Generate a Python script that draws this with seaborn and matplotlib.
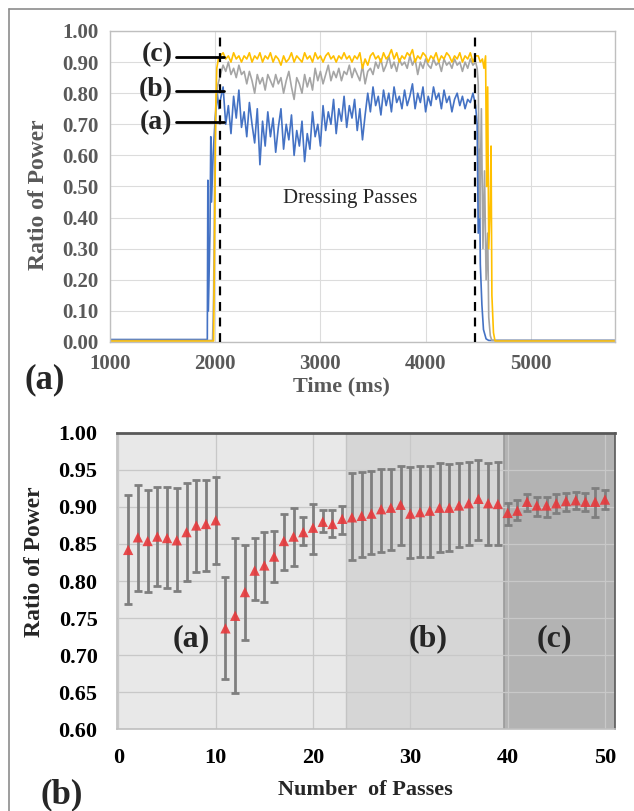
import numpy as np
import pandas as pd
import matplotlib
matplotlib.use("Agg")
import matplotlib.pyplot as plt
import seaborn as sns
from matplotlib.lines import Line2D

sns.set_theme(style="white")
plt.rcParams['font.family'] = ['Liberation Serif', 'DejaVu Serif']

# ---- panel (a): power ratio over time, three passes ----
plateau_t = list(range(2050, 4476, 25))

blue_rise_t = [1000, 1925, 1930, 1935, 1950, 1958, 1965, 1980, 2000, 2020, 2035]
blue_rise = [0.008, 0.008, 0.52, 0.10, 0.35, 0.66, 0.45, 0.60, 0.72, 0.80, 0.75]
blue_plateau = [
    0.78, 0.82, 0.70, 0.76, 0.67, 0.79, 0.72, 0.81, 0.69, 0.74,
    0.66, 0.77, 0.70, 0.64, 0.75, 0.57, 0.71, 0.63, 0.74, 0.66,
    0.72, 0.61, 0.69, 0.75, 0.62, 0.70, 0.65, 0.73, 0.60, 0.68,
    0.63, 0.71, 0.58, 0.67, 0.62, 0.74, 0.66, 0.70, 0.63, 0.76,
    0.68, 0.74, 0.70, 0.78, 0.67, 0.75, 0.71, 0.79, 0.69, 0.76,
    0.72, 0.78, 0.68, 0.75, 0.65, 0.73, 0.80, 0.74, 0.82, 0.76,
    0.79, 0.73, 0.81, 0.76, 0.80, 0.74, 0.82, 0.77, 0.79, 0.75,
    0.81, 0.76, 0.79, 0.83, 0.75, 0.80, 0.77, 0.82, 0.74, 0.79,
    0.76, 0.82, 0.78, 0.80, 0.75, 0.81, 0.77, 0.79, 0.74, 0.78,
    0.80, 0.76, 0.79, 0.75, 0.78, 0.77, 0.80, 0.76]
blue_drop_t = [4490, 4500, 4510, 4520, 4535, 4550, 4575, 4600, 5800]
blue_drop = [0.70, 0.35, 0.62, 0.25, 0.12, 0.04, 0.01, 0.005, 0.005]

gray_rise_t = [1000, 1975, 1985, 1995, 2005, 2020, 2035]
gray_rise = [0.005, 0.005, 0.15, 0.55, 0.75, 0.82, 0.84]
gray_plateau = [
    0.86, 0.89, 0.87, 0.90, 0.86, 0.88, 0.85, 0.89, 0.86, 0.87,
    0.83, 0.87, 0.84, 0.80, 0.86, 0.83, 0.85, 0.81, 0.86, 0.84,
    0.82, 0.86, 0.83, 0.85, 0.80, 0.84, 0.87, 0.82, 0.78, 0.85,
    0.83, 0.80, 0.86, 0.82, 0.85, 0.81, 0.88, 0.84, 0.87, 0.83,
    0.86, 0.89, 0.84, 0.87, 0.85, 0.88, 0.84, 0.87, 0.86, 0.89,
    0.85, 0.88, 0.86, 0.84, 0.89, 0.83, 0.87, 0.88, 0.86, 0.90,
    0.88, 0.91, 0.87, 0.89, 0.92, 0.88, 0.90, 0.87, 0.91, 0.89,
    0.90, 0.88, 0.92, 0.89, 0.91, 0.86, 0.90, 0.88, 0.91, 0.89,
    0.88, 0.91, 0.89, 0.90, 0.87, 0.91, 0.89, 0.90, 0.88, 0.91,
    0.89, 0.90, 0.87, 0.90, 0.88, 0.91, 0.89, 0.90]
gray_drop_t = [4490, 4500, 4515, 4530, 4545, 4560, 4575, 4590, 4600, 4615, 4630, 5800]
gray_drop = [0.88, 0.83, 0.40, 0.75, 0.30, 0.55, 0.20, 0.35, 0.08, 0.02, 0.005, 0.005]

gold_rise_t = [1000, 1985, 1995, 2005, 2015, 2030]
gold_rise = [0.003, 0.003, 0.35, 0.75, 0.88, 0.91]
gold_plateau = [
    0.92, 0.93, 0.91, 0.92, 0.90, 0.93, 0.91, 0.92, 0.90, 0.92,
    0.91, 0.93, 0.90, 0.92, 0.91, 0.93, 0.90, 0.92, 0.91, 0.93,
    0.90, 0.92, 0.91, 0.89, 0.92, 0.90, 0.91, 0.93, 0.90, 0.92,
    0.91, 0.90, 0.93, 0.91, 0.92, 0.90, 0.93, 0.91, 0.92, 0.90,
    0.92, 0.93, 0.91, 0.92, 0.90, 0.92, 0.91, 0.93, 0.91, 0.92,
    0.90, 0.92, 0.91, 0.93, 0.88, 0.91, 0.89, 0.92, 0.93, 0.91,
    0.92, 0.90, 0.93, 0.91, 0.92, 0.94, 0.91, 0.93, 0.90, 0.92,
    0.91, 0.93, 0.92, 0.94, 0.90, 0.92, 0.91, 0.93, 0.92, 0.90,
    0.92, 0.91, 0.93, 0.90, 0.92, 0.91, 0.93, 0.92, 0.90, 0.92,
    0.91, 0.93, 0.90, 0.92, 0.91, 0.93, 0.90, 0.92]
gold_drop_t = [4500, 4520, 4540, 4555, 4570, 4580, 4590, 4600, 4615, 4622, 4630, 4645, 4660, 5800]
gold_drop = [0.92, 0.90, 0.91, 0.88, 0.92, 0.50, 0.82, 0.30, 0.45, 0.63, 0.15, 0.03, 0.003, 0.003]

# ---- panel (b): mean ratio of power per pass ----
passes = list(range(1, 51))
ratio_mean = [0.842, 0.859, 0.854, 0.860, 0.858, 0.855, 0.866, 0.875, 0.877, 0.882,
              0.736, 0.753, 0.785, 0.814, 0.821, 0.833, 0.854, 0.860, 0.866, 0.872,
              0.880, 0.877, 0.884, 0.886, 0.888, 0.891, 0.897, 0.899, 0.903, 0.891,
              0.893, 0.895, 0.899, 0.899, 0.902, 0.905, 0.911, 0.905, 0.904, 0.892,
              0.895, 0.907, 0.902, 0.902, 0.905, 0.908, 0.909, 0.907, 0.907, 0.910]
ratio_hi = [0.916, 0.930, 0.923, 0.927, 0.927, 0.926, 0.932, 0.937, 0.937, 0.941,
            0.806, 0.858, 0.849, 0.858, 0.866, 0.867, 0.891, 0.899, 0.887, 0.904,
            0.896, 0.896, 0.902, 0.946, 0.947, 0.948, 0.952, 0.952, 0.956, 0.954,
            0.956, 0.956, 0.959, 0.958, 0.959, 0.961, 0.963, 0.959, 0.961, 0.905,
            0.910, 0.918, 0.914, 0.914, 0.917, 0.919, 0.920, 0.919, 0.926, 0.923]
ratio_lo = [0.769, 0.787, 0.785, 0.793, 0.791, 0.786, 0.800, 0.812, 0.814, 0.823,
            0.667, 0.649, 0.720, 0.775, 0.772, 0.799, 0.815, 0.820, 0.849, 0.837,
            0.866, 0.859, 0.863, 0.828, 0.832, 0.836, 0.839, 0.842, 0.849, 0.831,
            0.833, 0.833, 0.839, 0.841, 0.846, 0.849, 0.856, 0.849, 0.848, 0.876,
            0.882, 0.894, 0.888, 0.887, 0.892, 0.894, 0.897, 0.894, 0.887, 0.897]
zones = [(-0.15, 23.4, '#e8e8e8'), (23.4, 39.6, '#d6d6d6'), (39.6, 51, '#b3b3b3')]

fig = plt.figure(figsize=(6.34, 8.11), dpi=100)

tick_font = dict(family='Liberation Serif', weight='bold')

# top panel
ax1 = fig.add_axes([0.1735, 0.5783, 0.7965, 0.3835])
series = [
    (blue_rise_t + plateau_t + blue_drop_t, blue_rise + blue_plateau + blue_drop, '#4472c4'),
    (gray_rise_t + plateau_t + gray_drop_t, gray_rise + gray_plateau + gray_drop, '#a5a5a5'),
    (gold_rise_t + plateau_t + gold_drop_t, gold_rise + gold_plateau + gold_drop, '#ffc000'),
]
for t, v, c in series:
    df = pd.DataFrame({'t': t, 'v': v})
    sns.lineplot(data=df, x='t', y='v', ax=ax1, color=c, linewidth=1.2,
                 estimator=None, sort=False)

for xv in (2050, 4470):
    ax1.axvline(xv, color='black', linestyle=(0, (4, 3)), linewidth=1.6, zorder=5)

ax1.set_xlim(1000, 5800)
ax1.set_ylim(0, 1.0)
ax1.set_xticks([1000, 2000, 3000, 4000, 5000])
ax1.set_yticks(np.arange(0, 1.01, 0.1))
ax1.set_yticklabels([f'{y:.2f}' for y in np.arange(0, 1.01, 0.1)])
ax1.grid(True, color='#dcdcdc', linewidth=0.8)
ax1.set_axisbelow(True)
for s in ax1.spines.values():
    s.set_color('#bfbfbf')
    s.set_linewidth(1.0)
ax1.tick_params(length=0, labelsize=15, labelcolor='#595959')
ax1.tick_params(axis='y', pad=8)
ax1.tick_params(axis='x', pad=9)
for lab in ax1.get_xticklabels() + ax1.get_yticklabels():
    lab.set_fontweight('bold')
ax1.set_xlabel('')
ax1.set_ylabel('')

ax1.text(3285, 0.46, 'Dressing Passes', fontsize=15, ha='center', va='center')
for lab, ty, ly in [('(c)', 0.925, 0.916), ('(b)', 0.81, 0.807), ('(a)', 0.705, 0.707)]:
    ax1.text(1595, ty, lab, fontsize=20, fontweight='bold', ha='right', va='center')
    ax1.plot([1630, 2085], [ly, ly], color='black', linewidth=2, zorder=6)

# bottom panel
ax2 = fig.add_axes([0.1845, 0.1011, 0.785, 0.365])
for x0, x1, c in zones:
    ax2.axvspan(x0, x1, color=c, zorder=0, linewidth=0)
ax2.axvline(23.4, color='#c4c4c4', linewidth=1.0, zorder=0.5)
ax2.axvline(39.6, color='#9a9a9a', linewidth=1.2, zorder=0.5)

lo_err = [m - l for m, l in zip(ratio_mean, ratio_lo)]
hi_err = [h - m for m, h in zip(ratio_mean, ratio_hi)]
ax2.errorbar(passes, ratio_mean, yerr=[lo_err, hi_err], fmt='none',
             ecolor='#7f7f7f', elinewidth=2.0, capsize=3.2, capthick=2.0, zorder=3)
sns.scatterplot(x=passes, y=ratio_mean, ax=ax2, marker='^', s=55,
                color='#e8393c', edgecolor='none', alpha=0.9, zorder=4)

ax2.set_xlim(-0.15, 51)
ax2.set_ylim(0.6, 1.0)
ax2.set_xticks([0, 10, 20, 30, 40, 50])
yt = np.arange(0.60, 1.001, 0.05)
ax2.set_yticks(yt)
ax2.set_yticklabels([f'{y:.2f}' for y in yt])
ax2.grid(True, color='#c8c8c8', linewidth=0.9, zorder=1)
ax2.set_axisbelow(True)
for s in ax2.spines.values():
    s.set_color('#bfbfbf')
    s.set_linewidth(1.2)
ax2.spines['top'].set_color('#595959')
ax2.spines['top'].set_linewidth(2)
ax2.spines['right'].set_color('#595959')
ax2.tick_params(length=0, labelsize=16, labelcolor='black')
ax2.tick_params(axis='y', pad=14)
ax2.tick_params(axis='x', pad=14)
for lab in ax2.get_xticklabels() + ax2.get_yticklabels():
    lab.set_fontweight('bold')
ax2.set_xlabel('')
ax2.set_ylabel('')
for lab, xx in [('(a)', 7.45), ('(b)', 31.8), ('(c)', 44.8)]:
    ax2.text(xx, 0.722, lab, fontsize=23, fontweight='bold', ha='center', va='center')

# axis titles and panel letters
fig.text(0.0615, 0.7596, 'Ratio of Power', rotation=90, fontsize=17, fontweight='bold',
         color='#595959', ha='center', va='center')
fig.text(0.538, 0.523, 'Time (ms)', fontsize=16, fontweight='bold',
         color='#595959', ha='center', va='center')
fig.text(0.0552, 0.307, 'Ratio of Power', rotation=90, fontsize=17, fontweight='bold',
         ha='center', va='center')
fig.text(0.577, 0.026, 'Number  of Passes', fontsize=16, fontweight='bold',
         ha='center', va='center')
fig.text(0.071, 0.5314, '(a)', fontsize=25, fontweight='bold', ha='center', va='center')
fig.text(0.098, 0.0197, '(b)', fontsize=25, fontweight='bold', ha='center', va='center')

# outer frame (top and left edges only)
fig.add_artist(Line2D([9 / 634, 1.0], [1 - 9 / 811, 1 - 9 / 811], color='#8c8c8c', linewidth=1.2))
fig.add_artist(Line2D([9 / 634, 9 / 634], [0.0, 1 - 9 / 811], color='#8c8c8c', linewidth=1.2))

fig.savefig('out.png', dpi=100)
